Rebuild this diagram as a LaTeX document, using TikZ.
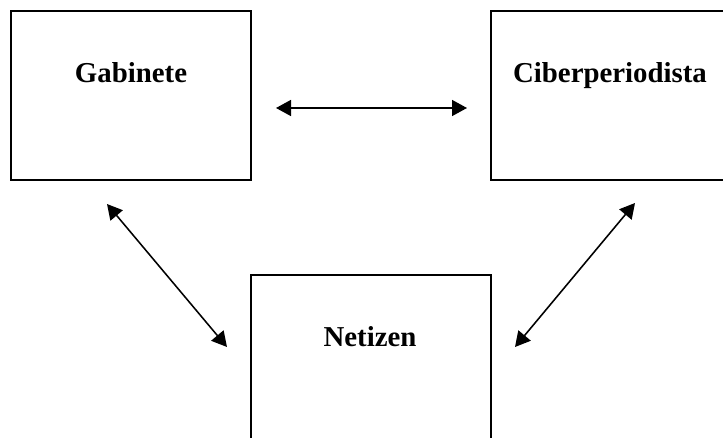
\documentclass[tikz,border=0pt]{standalone}
\usepackage{fontspec}
\setmainfont{Liberation Serif}
\usetikzlibrary{arrows.meta,positioning}

\tikzset{
  caja/.style={draw, line width=1.4pt, minimum width=6cm, minimum height=4.225cm, inner sep=0pt},
  titulo/.style={anchor=base, font=\fontsize{20.5}{24}\selectfont\bfseries},
  flecha/.style={line width=1.1pt, {Triangle[length=0.375cm,width=0.4cm]}-{Triangle[length=0.375cm,width=0.4cm]}}
}

\begin{document}
\begin{tikzpicture}[x=0.025cm,y=-0.025cm]
        \useasboundingbox (0,0) rectangle (723,438);
        \clip (0,0) rectangle (723,438);
        % cajas
        \node[caja] (gab) at (131,95.5) {};
        \node[caja] (cib) at (611,95.5) {};
        \node[caja] (net) at (371,359.5) {};
        \node[titulo] (tgab) at (131,83) {Gabinete};
        \node[titulo] (tcib) at (610,83) {Ciberperiodista};
        \node[titulo] (tnet) at (370,347) {Netizen};
        % extremos de las flechas
        \coordinate (gc1) at (276,108);
        \coordinate (gc2) at (467,108);
        \coordinate (gn1) at (107,204);
        \coordinate (gn2) at (227,347);
        \coordinate (cn1) at (635,203);
        \coordinate (cn2) at (515,347);
        \draw[flecha] (gc1) -- (gc2);
        \draw[flecha] (gn1) -- (gn2);
        \draw[flecha] (cn1) -- (cn2);
\end{tikzpicture}
\end{document}
